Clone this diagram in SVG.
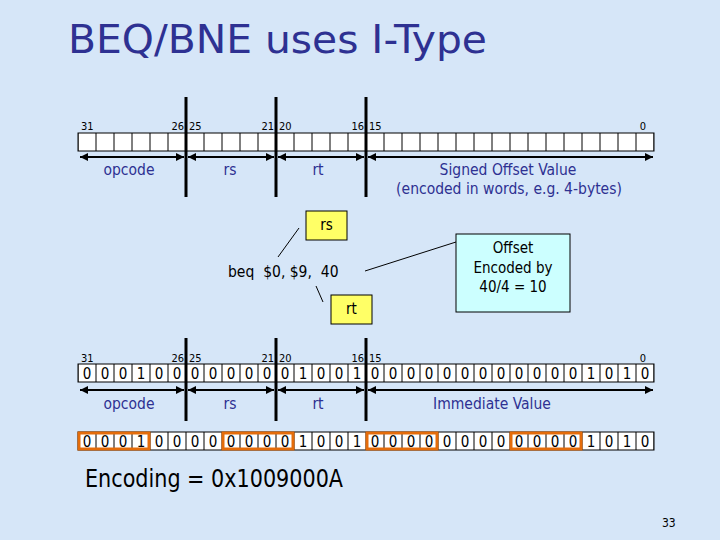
<svg xmlns="http://www.w3.org/2000/svg" width="720" height="540" viewBox="0 0 720 540">
<defs>
<style>
text{font-family:"DejaVu Sans Condensed","Liberation Sans",sans-serif}
.bg{fill:#d6e6f8}
.title{font-size:39px;fill:#2e3192}
.bn{font-size:11px;fill:#000}
.lab{font-size:15.5px;fill:#2e3192;text-anchor:middle}
.dig{font-size:15px;fill:#000;text-anchor:middle}
.thick{stroke:#000;stroke-width:3}
.arr{stroke:#000;stroke-width:2;marker-start:url(#ah);marker-end:url(#ah)}
.ln{stroke:#000;stroke-width:1;fill:none}
.note{font-size:15px;fill:#000;text-anchor:middle}
.org{fill:none;stroke:#e46c0a;stroke-width:3}
</style>
<marker id="ah" viewBox="0 0 10 10" refX="10" refY="5" markerWidth="4" markerHeight="4" orient="auto-start-reverse" markerUnits="strokeWidth">
<path d="M0,0 L10,5 L0,10 z" fill="#000"/>
</marker>
<pattern id="cells" x="78" y="0" width="18" height="540" patternUnits="userSpaceOnUse">
<rect x="0" y="0" width="18" height="540" fill="#fff" stroke="#000" stroke-width="1"/>
</pattern>
</defs>
<rect class="bg" x="0" y="0" width="720" height="540"/>
<text class="title" x="68" y="53" textLength="419" lengthAdjust="spacingAndGlyphs">BEQ/BNE uses I-Type</text>

<g id="format-top">
<g class="bn">
<text x="81" y="130">31</text>
<text x="184" y="130" text-anchor="end">26</text>
<text x="189" y="130">25</text>
<text x="274" y="130" text-anchor="end">21</text>
<text x="279" y="130">20</text>
<text x="364" y="130" text-anchor="end">16</text>
<text x="369" y="130">15</text>
<text x="643" y="130" text-anchor="middle">0</text>
</g>
<rect x="78" y="133" width="576" height="18" fill="url(#cells)" stroke="#000" stroke-width="1"/>
<line class="arr" x1="80" y1="157" x2="184" y2="157"/>
<line class="arr" x1="188" y1="157" x2="274" y2="157"/>
<line class="arr" x1="278" y1="157" x2="364" y2="157"/>
<line class="arr" x1="368" y1="157" x2="653" y2="157"/>
<line class="thick" x1="186" y1="97" x2="186" y2="197"/>
<line class="thick" x1="276" y1="97" x2="276" y2="197"/>
<line class="thick" x1="366" y1="97" x2="366" y2="197"/>
<text class="lab" x="129" y="175">opcode</text>
<text class="lab" x="230" y="175">rs</text>
<text class="lab" x="318" y="175">rt</text>
<text class="lab" x="508" y="175">Signed Offset Value</text>
<text class="lab" x="509" y="194">(encoded in words, e.g. 4-bytes)</text>
</g>

<g id="connectors">
<line class="ln" x1="299" y1="228" x2="278" y2="257"/>
<line class="ln" x1="316" y1="286" x2="323" y2="302"/>
<line class="ln" x1="365" y1="271" x2="456" y2="242"/>
</g>

<g id="instr">
<text x="228" y="277" style="font-size:15.5px;fill:#000" xml:space="preserve">beq  $0, $9,  40</text>
</g>
<g id="rs-box">
<rect x="306" y="211" width="41" height="29" fill="#ffff66" stroke="#000" stroke-width="1"/>
<text class="note" x="326.5" y="230">rs</text>
</g>
<g id="rt-box">
<rect x="331" y="295" width="41" height="29" fill="#ffff66" stroke="#000" stroke-width="1"/>
<text class="note" x="351.5" y="314">rt</text>
</g>
<g id="offset-box">
<rect x="456" y="234" width="114" height="78" fill="#ccffff" stroke="#000" stroke-width="1"/>
<text class="note" x="513" y="253">Offset</text>
<text class="note" x="513" y="273">Encoded by</text>
<text class="note" x="513" y="292">40/4 = 10</text>
</g>

<g id="format-bits">
<g class="bn">
<text x="81" y="362">31</text>
<text x="184" y="362" text-anchor="end">26</text>
<text x="189" y="362">25</text>
<text x="274" y="362" text-anchor="end">21</text>
<text x="279" y="362">20</text>
<text x="364" y="362" text-anchor="end">16</text>
<text x="369" y="362">15</text>
<text x="643" y="362" text-anchor="middle">0</text>
</g>
<rect x="78" y="364" width="576" height="18" fill="url(#cells)" stroke="#000" stroke-width="1"/>
<text class="dig" y="379" x="87 105 123 141 159 177 195 213 231 249 267 285 303 321 339 357 375 393 411 429 447 465 483 501 519 537 555 573 591 609 627 645">00010000000010010000000000001010</text>
<line class="arr" x1="80" y1="390" x2="184" y2="390"/>
<line class="arr" x1="188" y1="390" x2="274" y2="390"/>
<line class="arr" x1="278" y1="390" x2="364" y2="390"/>
<line class="arr" x1="368" y1="390" x2="653" y2="390"/>
<line class="thick" x1="186" y1="338" x2="186" y2="421"/>
<line class="thick" x1="276" y1="338" x2="276" y2="421"/>
<line class="thick" x1="366" y1="338" x2="366" y2="421"/>
<text class="lab" x="129" y="409">opcode</text>
<text class="lab" x="230" y="409">rs</text>
<text class="lab" x="318" y="409">rt</text>
<text class="lab" x="492" y="409">Immediate Value</text>
</g>

<g id="encoding">
<rect x="78" y="432" width="576" height="18" fill="url(#cells)" stroke="#000" stroke-width="1"/>
<text class="dig" y="447" x="87 105 123 141 159 177 195 213 231 249 267 285 303 321 339 357 375 393 411 429 447 465 483 501 519 537 555 573 591 609 627 645">00010000000010010000000000001010</text>
<rect class="org" x="79" y="433" width="70" height="16"/>
<rect class="org" x="223" y="433" width="70" height="16"/>
<rect class="org" x="367" y="433" width="70" height="16"/>
<rect class="org" x="511" y="433" width="70" height="16"/>
<text x="85" y="487" style="font-size:24px;fill:#000" textLength="258" lengthAdjust="spacingAndGlyphs">Encoding = 0x1009000A</text>
</g>
<text x="662" y="527" style="font-size:12px;fill:#000">33</text>
</svg>
